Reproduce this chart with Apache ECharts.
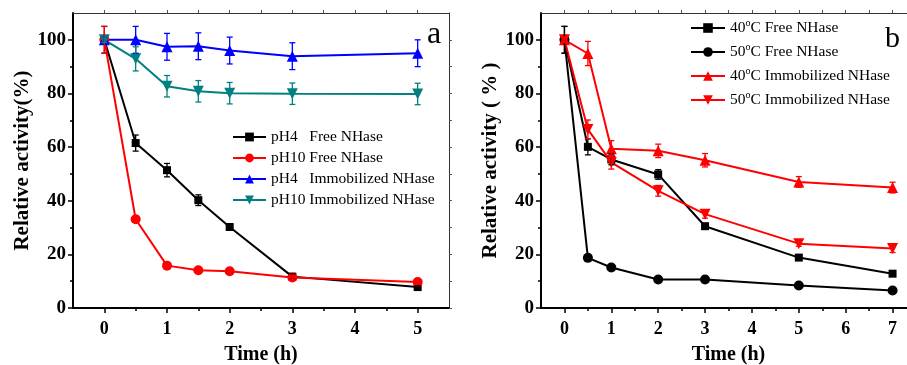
<!DOCTYPE html>
<html>
<head>
<meta charset="utf-8">
<script src="https://cdn.jsdelivr.net/npm/echarts@6/dist/echarts.min.js"></script>
<style>
  html, body { margin: 0; padding: 0; background: #fff; }
  #chart { width: 907px; height: 365px; }
</style>
</head>
<body>
<div id="chart"></div>
<script>
// ---- panel a: pH stability ----
const timeA = [0, 0.5, 1, 1.5, 2, 3, 5];
const namesA = ['pH4   Free NHase', 'pH10 Free NHase', 'pH4   Immobilized NHase', 'pH10 Immobilized NHase'];
const pH4Free = [100, 61.5, 51.4, 40.2, 30.2, 11.7, 7.8];
const pH10Free = [100, 33.1, 15.8, 14.1, 13.7, 11.4, 9.7];
const pH4Imm = [100, 100, 97.4, 97.6, 96.0, 93.9, 95.0];
const pH10Imm = [100, 92.9, 82.7, 80.8, 80.1, 79.9, 79.8];
const pH4FreeErr = [5, 3, 2.5, 2, 1.2, 1, 0.5];
const pH10FreeErr = [5, 1, 0.8, 0.8, 0.8, 0.8, 0.8];
const pH4ImmErr = [1, 5, 5, 5, 5, 5, 5];
const pH10ImmErr = [1, 4.5, 4, 4, 4, 4, 4];

// ---- panel b: thermal stability ----
const timeB = [0, 0.5, 1, 2, 3, 5, 7];
const namesB = ['40°C Free NHase', '50°C Free NHase', '40°C Immobilized NHase', '50°C Immobilized NHase'];
const free40 = [100, 60.1, 55.4, 49.8, 30.5, 18.8, 12.8];
const free50 = [100, 18.7, 15.1, 10.6, 10.6, 8.4, 6.5];
const imm40 = [100, 94.9, 59.4, 58.6, 55.1, 47.0, 44.9];
const imm50 = [100, 66.6, 54.3, 43.7, 35.0, 24.0, 22.2];
const free40Err = [5, 3, 2, 1.8, 1, 0.8, 0.8];
const free50Err = [5, 1, 1, 0.8, 0.8, 0.5, 0.5];
const imm40Err = [1, 4.5, 3, 2.5, 2.5, 2, 2];
const imm50Err = [1, 3.5, 2.5, 2, 1.5, 1, 1.5];

const yTicks = [0, 20, 40, 60, 80, 100];
const yMinor = [10, 30, 50, 70, 90];
const yAll = [0, 10, 20, 30, 40, 50, 60, 70, 80, 90, 100];
const xTicksA = [0, 1, 2, 3, 4, 5];
const xHalfA = [0.5, 1.5, 2.5, 3.5, 4.5];
const xTicksB = [0, 1, 2, 3, 4, 5, 6, 7];
const xHalfB = [0.5, 1.5, 2.5, 3.5, 4.5, 5.5, 6.5];

const FONT = 'Liberation Serif';
const DOWN_TRI = 'path://M0,0 L10,0 L5,9 Z';

const chart = echarts.init(document.getElementById('chart'), null, { renderer: 'canvas' });

const pairs = (xs, ys) => xs.map((x, i) => [x, ys[i]]);
const errPairs = (xs, ys, es) => xs.map((x, i) => [x, ys[i] - es[i], ys[i] + es[i]]);

function renderErr(params, api) {
  const x = api.value(0);
  const lo = api.coord([x, api.value(1)]);
  const hi = api.coord([x, api.value(2)]);
  const w = 3;
  const style = { stroke: api.visual('color'), lineWidth: 1.3 };
  return {
    type: 'group',
    children: [
      { type: 'line', shape: { x1: hi[0], y1: hi[1], x2: lo[0], y2: lo[1] }, style },
      { type: 'line', shape: { x1: hi[0] - w, y1: hi[1], x2: hi[0] + w, y2: hi[1] }, style },
      { type: 'line', shape: { x1: lo[0] - w, y1: lo[1], x2: lo[0] + w, y2: lo[1] }, style },
    ],
  };
}

function lineSeries(name, xs, ys, color, symbol, size, axis) {
  return {
    name, type: 'line', data: pairs(xs, ys),
    xAxisIndex: axis, yAxisIndex: axis,
    symbol, symbolSize: size, showAllSymbol: true,
    color, lineStyle: { width: 2, color },
    itemStyle: { color },
    z: 3, animation: false,
  };
}

function errSeries(xs, ys, es, color, axis) {
  return {
    type: 'custom', name: 'err', data: errPairs(xs, ys, es),
    xAxisIndex: axis, yAxisIndex: axis,
    renderItem: renderErr, encode: { x: 0, y: [1, 2] },
    itemStyle: { color }, z: 4, silent: true, animation: false,
  };
}

// three x axes and three y axes per grid: main, minor ticks, mirror
function xAxes(grid, max, major, half) {
  return [
    {
      gridIndex: grid, type: 'value', position: 'bottom', min: -0.5, max,
      axisLine: { onZero: false, lineStyle: { color: '#000', width: 2 } },
      axisTick: { customValues: major, length: 5, lineStyle: { color: '#000', width: 1.5 } },
      axisLabel: { customValues: major, margin: 12, color: '#000', fontFamily: FONT, fontWeight: 'bold', fontSize: 18 },
      splitLine: { show: false },
      name: 'Time (h)', nameLocation: 'middle', nameGap: 37,
      nameTextStyle: { color: '#000', fontFamily: FONT, fontWeight: 'bold', fontSize: 20 },
    },
    {
      gridIndex: grid, type: 'value', position: 'bottom', min: -0.5, max,
      axisLine: { show: false, onZero: false },
      axisTick: { customValues: half, length: 3, lineStyle: { color: '#000', width: 1.5 } },
      axisLabel: { show: false }, splitLine: { show: false },
    },
    {
      gridIndex: grid, type: 'value', position: 'top', min: -0.5, max,
      axisLine: { onZero: false, lineStyle: { color: '#333', width: 1 } },
      axisTick: { customValues: major.concat(half), length: 3, lineStyle: { color: '#555', width: 1 } },
      axisLabel: { show: false }, splitLine: { show: false },
    },
  ];
}

function yAxes(grid, name) {
  return [
    {
      gridIndex: grid, type: 'value', position: 'left', min: 0, max: 110,
      axisLine: { show: true, onZero: false, lineStyle: { color: '#000', width: 2 } },
      axisTick: { show: true, customValues: yTicks, length: 5, lineStyle: { color: '#000', width: 1.5 } },
      axisLabel: { customValues: yTicks, margin: 7, color: '#000', fontFamily: FONT, fontWeight: 'bold', fontSize: 19 },
      splitLine: { show: false },
      name, nameLocation: 'middle', nameGap: 40,
      nameTextStyle: { color: '#000', fontFamily: FONT, fontWeight: 'bold', fontSize: 21 },
    },
    {
      gridIndex: grid, type: 'value', position: 'left', min: 0, max: 110,
      axisLine: { show: false, onZero: false },
      axisTick: { show: true, customValues: yMinor, length: 3, lineStyle: { color: '#000', width: 1.5 } },
      axisLabel: { show: false }, splitLine: { show: false },
    },
    {
      gridIndex: grid, type: 'value', position: 'right', min: 0, max: 110,
      axisLine: { show: true, onZero: false, lineStyle: { color: '#333', width: 1 } },
      axisTick: { show: true, customValues: yAll, length: 3, lineStyle: { color: '#555', width: 1 } },
      axisLabel: { show: false }, splitLine: { show: false },
    },
  ];
}

const option = {
  backgroundColor: '#fff',
  animation: false,
  grid: [
    { left: 73, top: 13, width: 376, height: 295, outerBoundsMode: 'none' },
    { left: 541, top: 13, width: 375, height: 295, outerBoundsMode: 'none' },
  ],
  xAxis: xAxes(0, 5.5, xTicksA, xHalfA).concat(xAxes(1, 7.5, xTicksB, xHalfB)),
  yAxis: yAxes(0, 'Relative activity(%)').concat(yAxes(1, 'Relative activity ( % )')),
  legend: [
    {
      data: namesA, orient: 'vertical', left: 232, top: 129, padding: 0,
      itemWidth: 33, itemHeight: 11, itemGap: 5,
      textStyle: { color: '#000', fontFamily: FONT, fontSize: 15.5 },
    },
    {
      data: namesB, orient: 'vertical', left: 690, top: 18, padding: 0,
      itemWidth: 34, itemHeight: 12, itemGap: 4,
      formatter: (n) => n.replace('°', '{sup|o}'),
      textStyle: {
        color: '#000', fontFamily: FONT, fontSize: 15.5, lineHeight: 20,
        rich: { sup: { fontSize: 10, lineHeight: 10, fontFamily: FONT, color: '#000', verticalAlign: 'top' } },
      },
    },
  ],
  graphic: [
    { type: 'text', left: 427, top: 19, style: { text: 'a', font: '32px "Liberation Serif"', fill: '#000' } },
    { type: 'text', left: 885, top: 24, style: { text: 'b', font: '30px "Liberation Serif"', fill: '#000' } },
  ],
  series: [
    lineSeries(namesA[0], timeA, pH4Free, '#000000', 'rect', 8, 0),
    lineSeries(namesA[1], timeA, pH10Free, '#ff0000', 'circle', 10, 0),
    lineSeries(namesA[2], timeA, pH4Imm, '#0000ff', 'triangle', 11, 0),
    lineSeries(namesA[3], timeA, pH10Imm, '#008080', DOWN_TRI, 11, 0),
    errSeries(timeA, pH4Free, pH4FreeErr, '#000000', 0),
    errSeries(timeA, pH10Free, pH10FreeErr, '#ff0000', 0),
    errSeries(timeA, pH4Imm, pH4ImmErr, '#0000ff', 0),
    errSeries(timeA, pH10Imm, pH10ImmErr, '#008080', 0),

    lineSeries(namesB[0], timeB, free40, '#000000', 'rect', 8, 3),
    lineSeries(namesB[1], timeB, free50, '#000000', 'circle', 10, 3),
    lineSeries(namesB[2], timeB, imm40, '#ff0000', 'triangle', 11, 3),
    lineSeries(namesB[3], timeB, imm50, '#ff0000', DOWN_TRI, 11, 3),
    errSeries(timeB, free40, free40Err, '#000000', 3),
    errSeries(timeB, free50, free50Err, '#000000', 3),
    errSeries(timeB, imm40, imm40Err, '#ff0000', 3),
    errSeries(timeB, imm50, imm50Err, '#ff0000', 3),
  ],
};

chart.setOption(option);
</script>
</body>
</html>
